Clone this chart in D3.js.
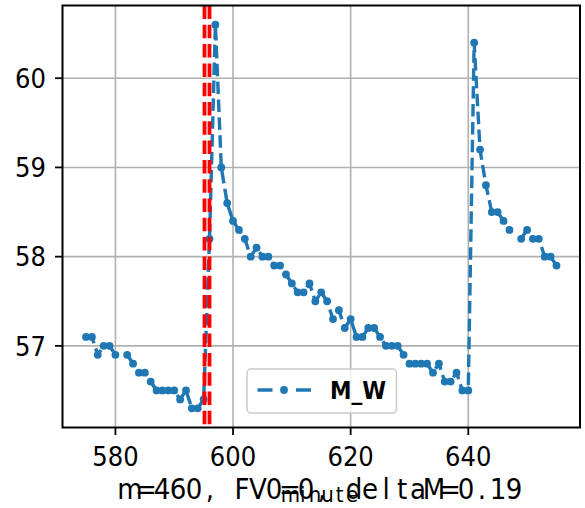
<!DOCTYPE html>
<html>
<head>
<meta charset="utf-8">
<script src="https://cdn.jsdelivr.net/npm/d3@7"></script>
<style>
  html, body { margin: 0; padding: 0; background: #fff; }
  svg { display: block; }
</style>
</head>
<body>
<svg id="chart" width="585" height="508"></svg>
<script>
// ---- data ----
const minutes = [575,576,577,578,579,580,581,582,583,584,585,586,587,588,589,590,591,592,593,594,595,
  596,597,598,599,600,601,602,603,604,605,606,607,608,609,610,611,612,613,614,615,616,617,618,619,620,
  621,622,623,624,625,626,627,628,629,630,631,632,633,634,635,636,637,638,639,640,
  641,642,643,644,645,646,647,648,649,650,651,652,653,654,655];
const mw = [57.1,57.1,56.9,57.0,57.0,56.9,null,56.9,56.8,56.7,56.7,56.6,56.5,56.5,56.5,56.5,56.4,56.5,56.3,56.3,56.4,
  58.2,60.6,59.0,58.6,58.4,58.3,58.2,58.0,58.1,58.0,58.0,57.9,57.9,57.8,57.7,57.6,57.6,57.7,57.5,57.6,57.5,57.3,57.4,57.2,57.3,
  57.1,57.1,57.2,57.2,57.1,57.0,57.0,57.0,56.9,56.8,56.8,56.8,56.8,56.7,56.8,56.6,56.6,56.7,56.5,56.5,
  60.4,59.2,58.8,58.5,58.5,58.4,58.3,null,58.2,58.3,58.2,58.2,58.0,58.0,57.9];
const vlines = [595.15, 596.0];
const xTicks = [580, 600, 620, 640];
const yTicks = [57, 58, 59, 60];
const seriesName = "M_W";
const titleText = "m=460, FV0=0, deltaM=0.19";
const xLabel = "minute";

// ---- layout ----
const L = 62.5, R = 580, T = 5.5, B = 427.5;
const svg = d3.select("#chart");
const tickFont = "'Liberation Sans Narrow', 'DejaVu Sans Condensed', 'Noto Sans CJK SC', sans-serif";

const pts = minutes.map((m, i) => ({ m, v: mw[i] }));
const valid = pts.filter(d => d.v != null);
const xmin = d3.min(minutes), xmax = d3.max(minutes);
const ymin = d3.min(valid, d => d.v), ymax = d3.max(valid, d => d.v);
const xpad = (xmax - xmin) * 0.05, ypad = (ymax - ymin) * 0.05;

const x = d3.scaleLinear().domain([xmin - xpad, xmax + xpad]).range([L, R]);
const y = d3.scaleLinear().domain([ymin - ypad, ymax + ypad]).range([B, T]);

// grid
const g = svg.append("g");
g.selectAll(".gx").data(xTicks).enter().append("line")
  .attr("x1", d => x(d)).attr("x2", d => x(d)).attr("y1", T).attr("y2", B)
  .attr("stroke", "#b0b0b0").attr("stroke-width", 1.6);
g.selectAll(".gy").data(yTicks).enter().append("line")
  .attr("y1", d => y(d)).attr("y2", d => y(d)).attr("x1", L).attr("x2", R)
  .attr("stroke", "#b0b0b0").attr("stroke-width", 1.6);

// series
const line = d3.line().defined(d => d.v != null).x(d => x(d.m)).y(d => y(d.v));
svg.append("path").datum(pts).attr("d", line)
  .attr("fill", "none").attr("stroke", "#1f77b4").attr("stroke-width", 3.4)
  .attr("stroke-dasharray", "12.5,5.4");
svg.selectAll(".pt").data(valid).enter().append("circle")
  .attr("cx", d => x(d.m)).attr("cy", d => y(d.v)).attr("r", 3.9)
  .attr("fill", "#1f77b4");

// red vertical lines
svg.selectAll(".vl").data(vlines).enter().append("line")
  .attr("x1", d => x(d)).attr("x2", d => x(d)).attr("y1", T).attr("y2", B)
  .attr("stroke", "#ff0000").attr("stroke-width", 3.8)
  .attr("stroke-dasharray", "13.5,5.8");

// axes frame
svg.append("rect").attr("x", L).attr("y", T).attr("width", R - L).attr("height", B - T)
  .attr("fill", "none").attr("stroke", "#000").attr("stroke-width", 2);

// x ticks
const xa = svg.append("g");
xa.selectAll("line").data(xTicks).enter().append("line")
  .attr("x1", d => x(d)).attr("x2", d => x(d)).attr("y1", B).attr("y2", B + 7.5)
  .attr("stroke", "#000").attr("stroke-width", 1.8);
xa.selectAll("text").data(xTicks).enter().append("text")
  .attr("x", d => x(d)).attr("y", 465.5).attr("text-anchor", "middle")
  .attr("font-family", tickFont).attr("font-size", 27).attr("fill", "#000")
  .text(d => d);

// y ticks
const ya = svg.append("g");
ya.selectAll("line").data(yTicks).enter().append("line")
  .attr("x1", L - 7.5).attr("x2", L).attr("y1", d => y(d)).attr("y2", d => y(d))
  .attr("stroke", "#000").attr("stroke-width", 1.8);
ya.selectAll("text").data(yTicks).enter().append("text")
  .attr("x", 46).attr("y", d => y(d) + 9.8).attr("text-anchor", "end")
  .attr("font-family", tickFont).attr("font-size", 27).attr("fill", "#000")
  .text(d => d);

// legend
const lg = svg.append("g");
lg.append("rect").attr("x", 247).attr("y", 369).attr("width", 149.5).attr("height", 44)
  .attr("rx", 4).attr("fill", "#fff").attr("fill-opacity", 0.8)
  .attr("stroke", "#cccccc").attr("stroke-width", 1.5);
lg.append("line").attr("x1", 257.5).attr("x2", 311).attr("y1", 390).attr("y2", 390)
  .attr("stroke", "#1f77b4").attr("stroke-width", 3.4).attr("stroke-dasharray", "15,23.5,15");
lg.append("circle").attr("cx", 284).attr("cy", 390).attr("r", 3.9).attr("fill", "#1f77b4");
lg.append("text").attr("x", 386).attr("y", 399).attr("text-anchor", "end")
  .attr("font-family", tickFont).attr("font-size", 24).attr("font-weight", "bold").attr("fill", "#000")
  .text(seriesName);

// x label (monospaced cells)
const xl = xLabel.split("");
const xlPitch = 12.3, xlCenter = (L + R) / 2;
svg.append("text")
  .attr("x", xl.map((c, i) => (xlCenter - xlPitch * xl.length / 2 + xlPitch * (i + 0.5)).toFixed(1)).join(" "))
  .attr("y", 502).attr("text-anchor", "middle")
  .attr("font-family", tickFont).attr("font-size", 22).attr("fill", "#000")
  .text(xLabel);

// bottom title text (monospaced cells)
const tt = titleText.split("");
const ttPitch = 16, ttLeft = 122;
svg.append("text")
  .attr("x", tt.map((c, i) => (ttLeft + ttPitch * (i + 0.5)).toFixed(1)).join(" "))
  .attr("y", 499).attr("text-anchor", "middle")
  .attr("font-family", tickFont).attr("font-size", 29).attr("fill", "#000")
  .text(titleText);
</script>
</body>
</html>
